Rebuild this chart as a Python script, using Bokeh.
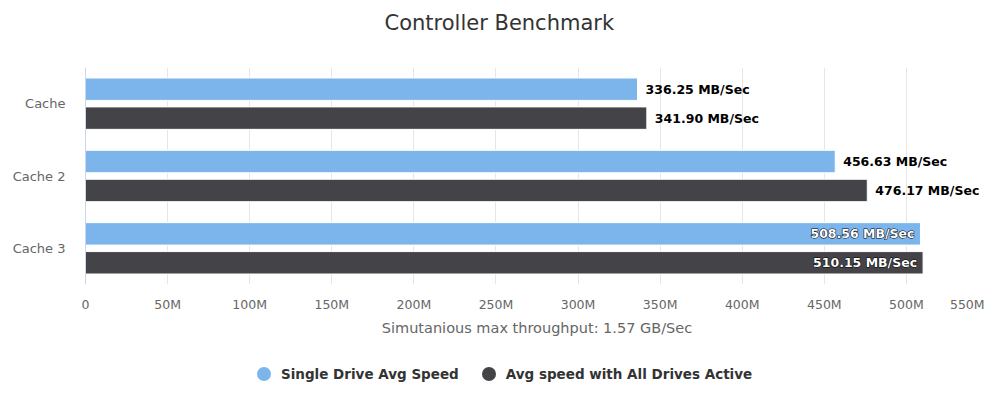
from bokeh.plotting import figure
from bokeh.layouts import column
from bokeh.models import (Range1d, FixedTicker, ColumnDataSource, Legend,
                          LegendItem, Title)
from bokeh.core.properties import value
from bokeh.embed import file_html
from bokeh.resources import INLINE

# ---- data -------------------------------------------------------------
categories = ["Cache", "Cache 2", "Cache 3"]
series_names = ["Single Drive Avg Speed", "Avg speed with All Drives Active"]
single_drive = [336.25, 456.63, 508.56]      # MB/Sec
all_drives = [341.90, 476.17, 510.15]        # MB/Sec
x_ticks = [0, 50, 100, 150, 200, 250, 300, 350, 400, 450, 500, 550]
x_tick_labels = ["0", "50M", "100M", "150M", "200M", "250M", "300M",
                 "350M", "400M", "450M", "500M", "550M"]
chart_title = "Controller Benchmark"
axis_title = "Simutanious max throughput: 1.57 GB/Sec"

# ---- style ------------------------------------------------------------
FONT = "DejaVu Sans"
BLUE = "#7cb5ec"
DARK = "#434348"
X_MAX = x_ticks[-1]
BAR_H = 0.31
DODGE = 0.2
INSIDE_ROOM = 70            # MB/Sec needed right of a bar for an outside label
NBSP = "\u00a0"


def blank_strip(height):
    """A figure with no axes or grid, used for the title and legend rows."""
    f = figure(width=1000, height=height, output_backend="svg", toolbar_location=None,
               x_range=Range1d(0, 1), y_range=Range1d(0, 1), min_border=0,
               x_axis_location=None, y_axis_location=None, title=None)
    f.outline_line_color = None
    f.background_fill_color = "white"
    f.border_fill_color = "white"
    f.xgrid.visible = False
    f.ygrid.visible = False
    return f


# ---- title row --------------------------------------------------------
head = blank_strip(45)
head.add_layout(Title(text=chart_title, align="left", offset=299,
                      text_font=FONT, text_font_size="21px", text_font_style="normal",
                      text_color="#333333", standoff=17), "above")

# ---- main chart -------------------------------------------------------
p = figure(width=1000, height=305, output_backend="svg", toolbar_location=None,
           x_range=Range1d(0, X_MAX), y_range=Range1d(len(categories) - 0.5, -0.5),
           min_border_left=85, min_border_right=12, min_border_top=22,
           min_border_bottom=66, title=None)
p.background_fill_color = "white"
p.border_fill_color = "white"
p.outline_line_color = None

ypos = list(range(len(categories)))
series = [(single_drive, BLUE, -DODGE), (all_drives, DARK, DODGE)]
for vals, color, off in series:
    src = ColumnDataSource(dict(y=[y + off for y in ypos], v=vals))
    p.hbar(y="y", left=0, right="v", height=BAR_H, source=src,
           fill_color=color, line_color="white", line_width=1)

# value labels: beside the bar, or inside it when there is no room
out_y, out_v, out_t, in_y, in_v, in_t = [], [], [], [], [], []
for vals, _, off in series:
    for y, v in zip(ypos, vals):
        txt = f"{v:.2f} MB/Sec"
        if v > X_MAX - INSIDE_ROOM:
            in_y.append(y + off); in_v.append(v); in_t.append(txt)
        else:
            out_y.append(y + off); out_v.append(v); out_t.append(txt)

label_style = dict(text_baseline="middle", text_font=value(FONT),
                   text_font_style="bold", text_font_size="12.5px")
p.text(x="v", y="y", text="t", source=ColumnDataSource(dict(y=out_y, v=out_v, t=out_t)),
       x_offset=8, text_align="left", text_color="#000000", **label_style)
in_src = ColumnDataSource(dict(y=in_y, v=in_v, t=in_t))
p.text(x="v", y="y", text="t", source=in_src, x_offset=-6, text_align="right",
       text_color="#000000", text_outline_color="#000000", **label_style)
p.text(x="v", y="y", text="t", source=in_src, x_offset=-6, text_align="right",
       text_color="#ffffff", **label_style)

xa = p.xaxis[0]
xa.ticker = FixedTicker(ticks=x_ticks)
overrides = {t: lab for t, lab in zip(x_ticks, x_tick_labels)}
# keep the last label inside the canvas by padding its right side
overrides[x_ticks[-1]] = x_tick_labels[-1] + NBSP * 4
xa.major_label_overrides = overrides
xa.axis_line_color = None
xa.major_tick_line_color = None
xa.minor_tick_line_color = None
xa.major_tick_out = 0
xa.major_tick_in = 0
xa.major_label_standoff = 12
xa.major_label_text_font = FONT
xa.major_label_text_font_size = "12.5px"
xa.major_label_text_color = "#666666"
xa.axis_label = axis_title
xa.axis_label_standoff = 5
xa.axis_label_text_font = FONT
xa.axis_label_text_font_size = "14.5px"
xa.axis_label_text_font_style = "normal"
xa.axis_label_text_color = "#666666"

ya = p.yaxis[0]
ya.ticker = FixedTicker(ticks=ypos)
ya.major_label_overrides = {i: c for i, c in zip(ypos, categories)}
ya.axis_line_color = "#ccd6eb"
ya.axis_line_width = 1
ya.major_tick_line_color = None
ya.minor_tick_line_color = None
ya.major_tick_out = 0
ya.major_tick_in = 0
ya.major_label_standoff = 20
ya.major_label_text_font = FONT
ya.major_label_text_font_size = "13px"
ya.major_label_text_color = "#666666"

p.xgrid.grid_line_color = "#e6e6e6"
p.xgrid.ticker = FixedTicker(ticks=x_ticks)
p.ygrid.grid_line_color = None

# ---- legend row -------------------------------------------------------
leg = blank_strip(63)
# off-canvas proxies that only supply the legend's circle swatches
dots = [leg.scatter(x=[float("nan")], y=[float("nan")], marker="circle",
                    fill_color=c, line_color=None)
        for c in (BLUE, DARK)]
legend = Legend(items=[LegendItem(label=n, renderers=[r]) for n, r in zip(series_names, dots)],
                orientation="horizontal", location=(161, 22),
                glyph_width=35, glyph_height=35, label_standoff=-1, spacing=12,
                padding=0, margin=0, border_line_color=None, background_fill_alpha=0,
                label_text_font=FONT, label_text_font_size="13.5px",
                label_text_font_style="bold", label_text_color="#333333")
leg.add_layout(legend, "center")

open("out.html", "w").write(file_html(column(head, p, leg, spacing=0), INLINE))
